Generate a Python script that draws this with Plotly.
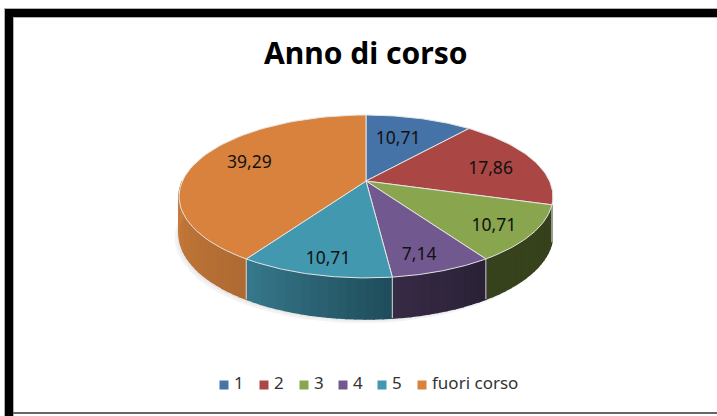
import math
import plotly.graph_objects as go

categories = ["1", "2", "3", "4", "5", "fuori corso"]
values = [10.71, 17.86, 10.71, 7.14, 10.71, 39.29]
value_labels = ["10,71", "17,86", "10,71", "7,14", "10,71", "39,29"]
title_text = "Anno di corso"
top_colors = ["#4572a7", "#aa4643", "#89a54e", "#71588f", "#4198af", "#d8823d"]
side_start = {2: "#36421c", 3: "#2a2136", 4: "#1f4c5a", 5: "#ad6a32"}
side_end = {2: "#36421c", 3: "#372a45", 4: "#37798c", 5: "#cb7c3b"}
label_offsets = [(-7, 5), (6, 4), (16, 10), (3, 16), (-4, 17), (2, -2)]
legend_x = [224, 264, 304, 343, 382, 422]

CX, CY, A, B, K = 366, 181, 183.5, 78.5, 0.19
FONT = "Noto Sans"


def project(frac, depth=0.0):
    t = 2 * math.pi * frac
    u, v = math.sin(t), math.cos(t)
    s = 1 / (1 + K * v)
    x = CX + A * u * s
    y = CY - B * v * s
    if depth:
        y += depth * (36 - 5 * v)
    return x, y


def hex_rgb(h):
    return tuple(int(h[i:i + 2], 16) for i in (1, 3, 5))


def mix(a, b, t):
    ca, cb = hex_rgb(a), hex_rgb(b)
    return "rgb(%d,%d,%d)" % tuple(round(ca[i] + (cb[i] - ca[i]) * t) for i in range(3))


def arc(f0, f1, depth=0.0, n=60):
    return [project(f0 + (f1 - f0) * i / n, depth) for i in range(n + 1)]


def poly(pts, fill, line=None, lw=0.5):
    xs, ys = zip(*pts)
    return go.Scatter(x=list(xs) + [xs[0]], y=list(ys) + [ys[0]], mode="lines", fill="toself",
                      fillcolor=fill, line=dict(color=line or fill, width=lw),
                      hoverinfo="skip", showlegend=False)


fig = go.Figure()
total = sum(values)
fracs = [0]
for v in values:
    fracs.append(fracs[-1] + v / total)

# soft shadow below the pie
for off, col in [(4, "#f3f3f3"), (2, "#e8e8e8")]:
    fig.add_trace(poly([(x - off, y + off) for x, y in arc(0.25, 0.95, 1.0)] + [(366, 200)], col))

# visible outer walls, front arc only, drawn as thin bands for a gradient
VIS0, VIS1 = 0.25, 0.75
for i in range(6):
    f0, f1 = max(fracs[i], VIS0), min(fracs[i + 1], VIS1)
    if f1 <= f0 or i not in side_start:
        continue
    steps = max(4, int((f1 - f0) * 160))
    for j in range(steps):
        a = f0 + (f1 - f0) * j / steps
        b = f0 + (f1 - f0) * (j + 1) / steps
        fig.add_trace(poly(arc(a, b, 0, 3) + arc(b, a, 1, 3), mix(side_start[i], side_end[i], (j + .5) / steps), lw=1.6))
# light edges between neighbouring walls
for i in range(6):
    f = fracs[i]
    if VIS0 < f < VIS1:
        (x0, y0), (x1, y1) = project(f), project(f, 1)
        fig.add_trace(go.Scatter(x=[x0, x1], y=[y0, y1], mode="lines", line=dict(color="#d8d8d8", width=1),
                                 hoverinfo="skip", showlegend=False))

# top face
for i in range(6):
    fig.add_trace(poly([(CX, CY)] + arc(fracs[i], fracs[i + 1]), top_colors[i], "#e4e4e4", 1))

# value labels at mid-angle
for i in range(6):
    mid = (fracs[i] + fracs[i + 1]) / 2
    t = 2 * math.pi * mid
    u, v = math.sin(t), math.cos(t)
    s = 1 / (1 + K * v * .7)
    x = CX + A * .7 * u * s + label_offsets[i][0]
    y = CY - B * .7 * v * s + label_offsets[i][1]
    fig.add_trace(go.Scatter(x=[x], y=[y], mode="text", text=[value_labels[i]],
                             textfont=dict(family=FONT, size=17.5, color="#111111"),
                             hoverinfo="skip", showlegend=False))

# legend
for i, c in enumerate(categories):
    fig.add_trace(go.Scatter(x=[legend_x[i]], y=[385], mode="markers",
                             marker=dict(symbol="square", size=9, color=top_colors[i]),
                             hoverinfo="skip", showlegend=False))
    fig.add_trace(go.Scatter(x=[legend_x[i] + 10], y=[385], mode="text", text=[c], textposition="middle right",
                             textfont=dict(family=FONT, size=17, color="#333333"),
                             hoverinfo="skip", showlegend=False))

fig.update_layout(
    width=717, height=416, margin=dict(l=0, r=0, t=0, b=0), paper_bgcolor="white", plot_bgcolor="white",
    xaxis=dict(range=[0, 717], visible=False, fixedrange=True),
    yaxis=dict(range=[416, 0], visible=False, fixedrange=True),
    annotations=[dict(x=366, y=52, xref="x", yref="y", text="<b>%s</b>" % title_text, showarrow=False,
                      font=dict(family=FONT, size=30, color="black"))],
    shapes=[
        dict(type="rect", x0=4, x1=14, y0=8, y1=416, fillcolor="#b0b0b0", line_width=0, layer="above"),
        dict(type="rect", x0=4, x1=717, y0=8, y1=18, fillcolor="#b0b0b0", line_width=0, layer="above"),
        dict(type="rect", x0=5, x1=13, y0=9, y1=416, fillcolor="black", line_width=0, layer="above"),
        dict(type="rect", x0=5, x1=717, y0=9, y1=17, fillcolor="black", line_width=0, layer="above"),
        dict(type="rect", x0=13, x1=717, y0=412, y1=414, fillcolor="#666666", line_width=0, layer="above"),
    ],
)
fig.write_html("out.html", config=dict(displayModeBar=False),
               post_script="document.body.style.margin='0';document.body.style.overflow='hidden';")
